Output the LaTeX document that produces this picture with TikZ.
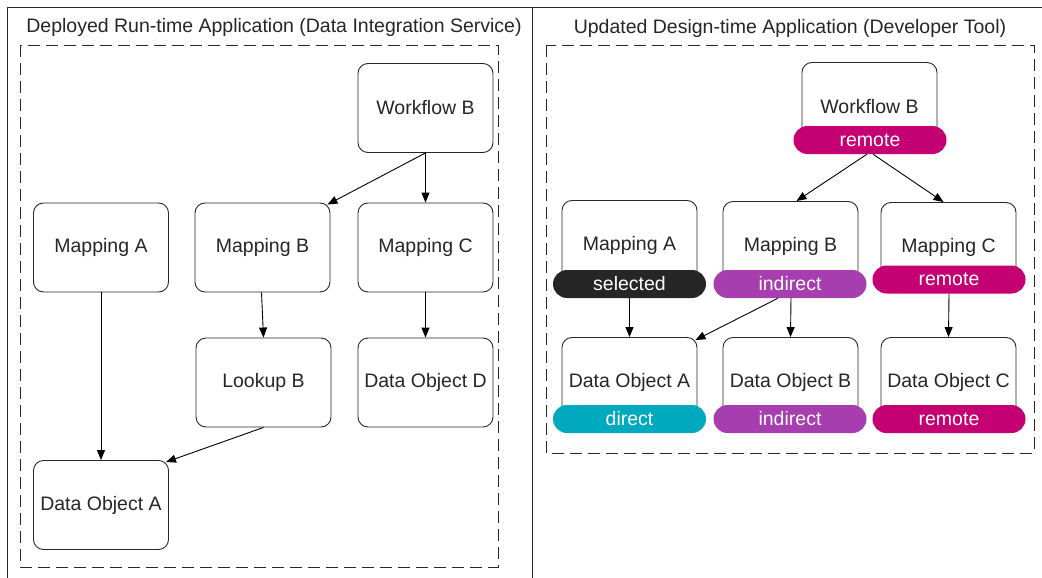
\documentclass[tikz,border=0pt]{standalone}
\usepackage{fontspec}
\setmainfont{Liberation Sans}
\usetikzlibrary{arrows.meta}
\definecolor{remotec}{RGB}{196,0,114}
\definecolor{indirectc}{RGB}{166,62,176}
\definecolor{directc}{RGB}{0,169,189}
\definecolor{selectedc}{RGB}{38,38,38}
\definecolor{linec}{RGB}{40,40,40}
\begin{document}
\begin{tikzpicture}[x=1pt,y=-1pt,
  box/.style={draw=linec, rounded corners=10pt, line width=0.9pt, minimum width=135pt, minimum height=89pt, inner sep=0pt, fill=white, font=\fontsize{19.5}{22}\selectfont, text=black!85},
  pill/.style={rounded corners=14pt, minimum width=153pt, minimum height=28pt, inner sep=0pt, text=white, font=\fontsize{19.5}{22}\selectfont},
  title/.style={font=\fontsize{19.5}{22}\selectfont, text=black!85, inner sep=0pt},
  frame/.style={draw=linec, line width=0.9pt},
  dashbox/.style={draw=linec, line width=0.9pt, dash pattern=on 12pt off 6pt},
  arr/.style={draw=black, line width=0.9pt, -{Triangle[length=10pt,width=8pt]}}]
\useasboundingbox (0,0) rectangle (1042,578);
% frame
\coordinate (ftl) at (7,7);
\coordinate (ftr) at (1042,7);
\coordinate (fbl) at (7,578);
\coordinate (dt) at (532,7);
\coordinate (db) at (532,578);
\draw[frame] (fbl) -- (ftl) -- (ftr);
\draw[frame] (dt) -- (db);
% titles
\node[title] (tl) at (274,27) {Deployed Run-time Application (Data Integration Service)};
\node[title] (tr) at (790,28) {Updated Design-time Application (Developer Tool)};
% dashed boxes
\draw[dashbox] (20,45) rectangle (498,567);
\draw[dashbox] (546,45) rectangle (1034,453);
% left nodes
\node[box] (lwf) at (425.5,108) {Workflow B};
\node[box] (lma) at (101,247.5) {Mapping A};
\node[box] (lmb) at (262.5,247.5) {Mapping B};
\node[box] (lmc) at (425.5,247.5) {Mapping C};
\node[box] (llb) at (263.5,382.5) {Lookup B};
\node[box] (ldd) at (425.5,382.5) {Data Object D};
\node[box] (lda) at (101,505) {Data Object A};
% left arrows
\draw[arr] (lwf.south) -- (lmc.north);
\draw[arr] (lwf.south) -- ([xshift=-3pt,yshift=-2pt]lmb.north east);
\draw[arr] ([xshift=-1pt]lmb.south) -- (llb.north);
\draw[arr] (lmc.south) -- (ldd.north);
\draw[arr] (lma.south) -- (lda.north);
\draw[arr] (llb.south) -- ([xshift=-3pt,yshift=-2pt]lda.north east);
% right nodes
\node[box] (rwf) at (869.5,107) {Workflow B};
\node[pill, fill=remotec] (rwfp) at (870,140) {remote};
\node[box] (rma) at (629.5,245) {Mapping A};
\node[pill, fill=selectedc] (rmap) at (629.5,284) {selected};
\node[box] (rmb) at (790.5,246) {Mapping B};
\node[pill, fill=indirectc] (rmbp) at (790,284) {indirect};
\node[box] (rmc) at (948.5,247) {Mapping C};
\node[pill, fill=remotec] (rmcp) at (949,279.5) {remote};
\node[box] (rda) at (629.5,382) {Data Object A};
\node[pill, fill=directc] (rdap) at (629.5,419) {direct};
\node[box] (rdb) at (790.5,382) {Data Object B};
\node[pill, fill=indirectc] (rdbp) at (790,419) {indirect};
\node[box] (rdc) at (948.5,382) {Data Object C};
\node[pill, fill=remotec] (rdcp) at (949,419) {remote};
% right arrows
\draw[arr] ([xshift=-3pt]rwfp.south) -- ([xshift=6pt]rmb.north);
\draw[arr] ([xshift=3pt]rwfp.south) -- ([xshift=-5pt]rmc.north);
\draw[arr] (rmap.south) -- (rda.north);
\draw[arr] ([xshift=1pt]rmbp.south) -- (rdb.north);
\draw[arr] ([xshift=-12pt]rmbp.south) -- ([xshift=-2pt,yshift=-3pt]rda.north east);
\draw[arr] (rmcp.south) -- (rdc.north);
\end{tikzpicture}
\end{document}
